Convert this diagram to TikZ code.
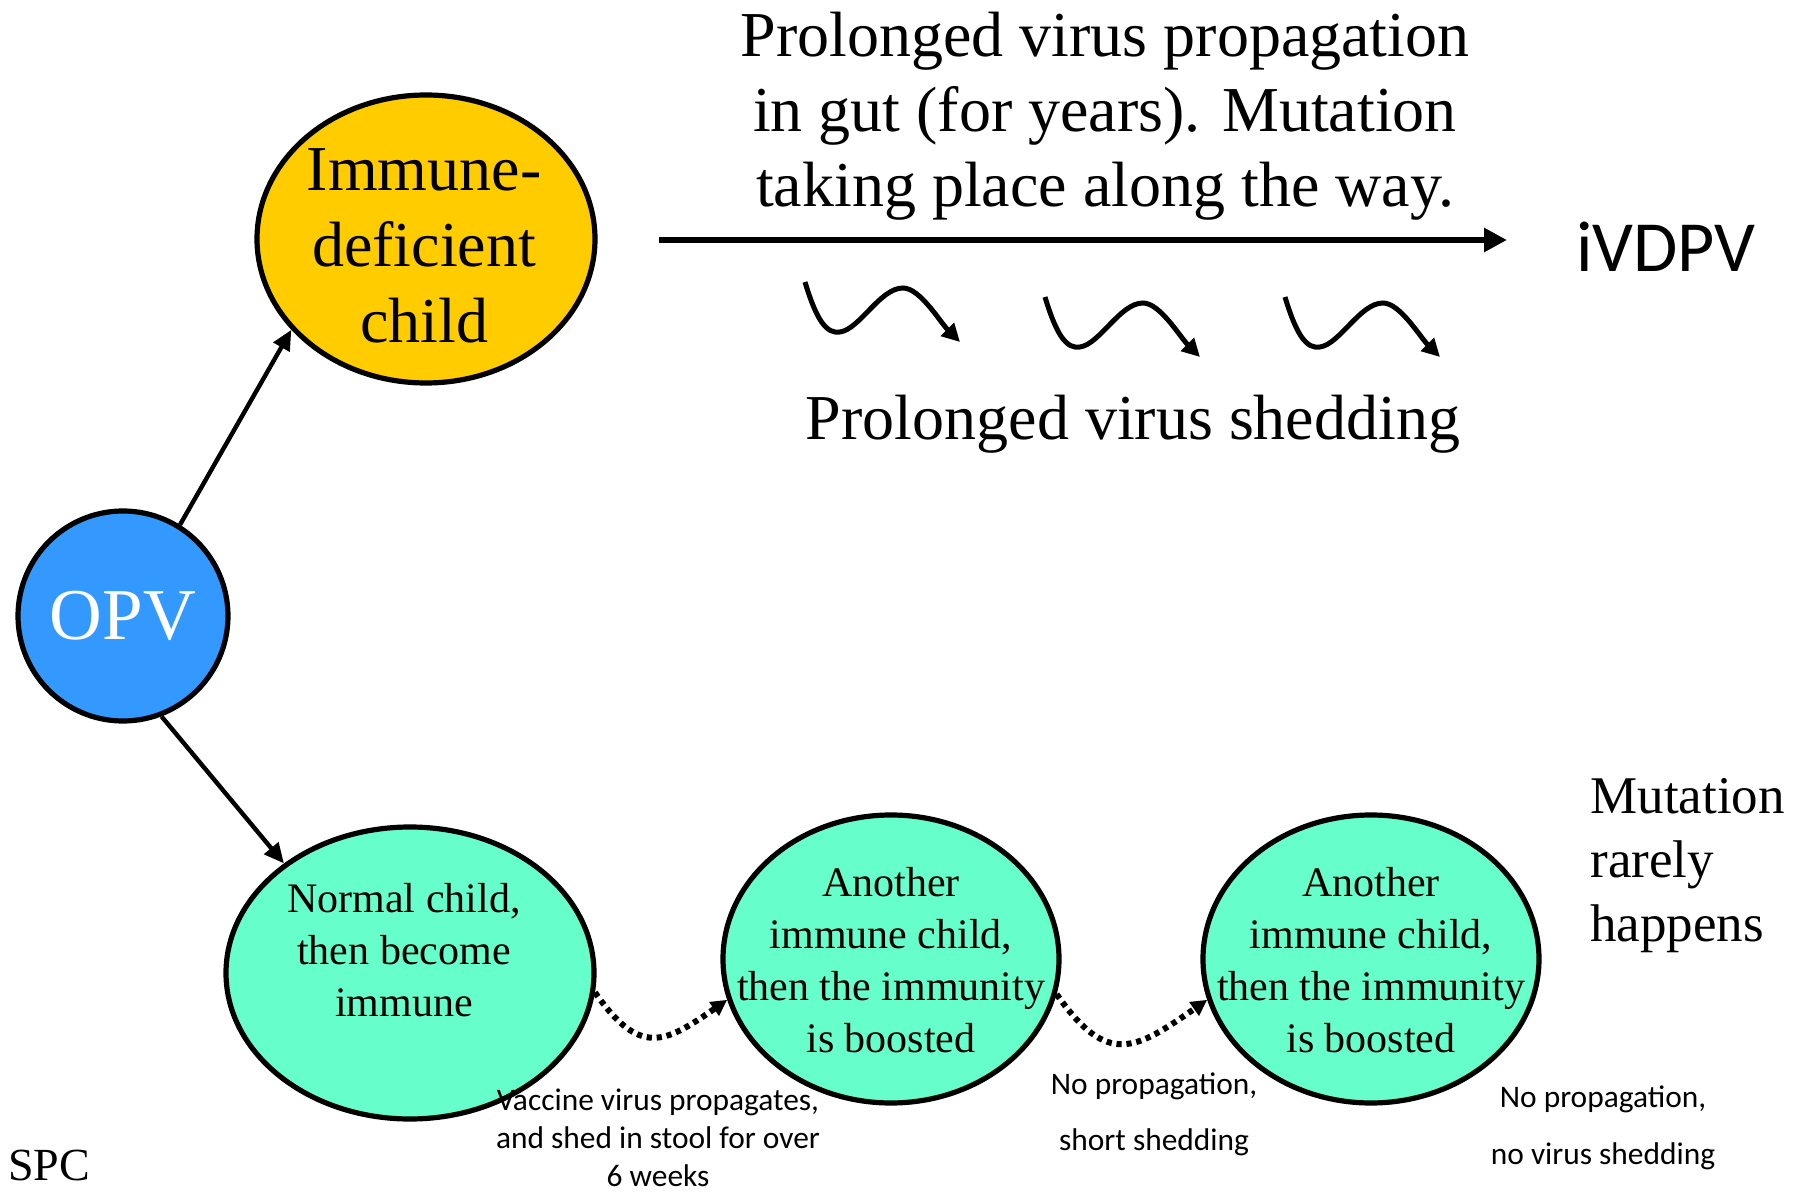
\documentclass[tikz,border=0pt]{standalone}
\usepackage{fontspec}
\setmainfont{Liberation Serif}
\newfontfamily\calibri{Carlito}
\usetikzlibrary{shapes.geometric,arrows.meta}
\definecolor{immyellow}{HTML}{FFCC00}
\definecolor{opvblue}{HTML}{3399FF}
\definecolor{mint}{HTML}{66FFCC}
\begin{document}
\begin{tikzpicture}[x=0.5pt,y=-0.5pt,
  bubble/.style={ellipse,draw=black,line width=2.6pt,inner sep=0pt},
  bigtext/.style={font=\fontsize{32}{38}\selectfont,align=center,inner sep=0pt},
  childtext/.style={font=\fontsize{21}{26}\selectfont,align=center,inner sep=0pt},
  smalltext/.style={font=\calibri\fontsize{15.7}{19}\selectfont,align=center,inner sep=0pt},
  opvarrow/.style={line width=2.2pt,-{Triangle[length=10pt,width=9pt]}},
  mainarrow/.style={line width=3pt,-{Triangle[length=11.5pt,width=11.5pt]}},
  squig/.style={line width=2.5pt,-{Triangle[length=9pt,width=9pt]}},
  dotarrow/.style={line width=3pt,dash pattern=on 2.6pt off 2.4pt,-{Triangle[length=8pt,width=8pt]}}]
\useasboundingbox (0,0) rectangle (1800,1192);

% nodes
\node[bubble,fill=opvblue,minimum width=105pt,minimum height=105pt,text=white,
      font=\fontsize{36.5}{40}\selectfont] (opv) at (123,616) {OPV};
\node[bubble,fill=immyellow,minimum width=169pt,minimum height=144pt] (imm) at (426,239) {};
\node[bigtext] (immtext) at (424,246) {Immune-\\deficient\\child};
\node[bubble,fill=mint,minimum width=184pt,minimum height=146pt] (normal) at (410,973) {};
\node[childtext] (normaltext) at (404,950) {Normal child,\\then become\\immune};
\node[bubble,fill=mint,minimum width=168pt,minimum height=144pt] (anot1) at (891,959) {};
\node[childtext] (anot1text) at (891,960) {Another\\immune child,\\then the immunity\\is boosted};
\node[bubble,fill=mint,minimum width=168pt,minimum height=144pt] (anot2) at (1371,959) {};
\node[childtext] (anot2text) at (1371,960) {Another\\immune child,\\then the immunity\\is boosted};

\node[bigtext,font=\fontsize{32}{37.6}\selectfont] (title) at (1105,116) {Prolonged virus propagation\\in gut (for years). Mutation\\taking place along the way.};
\node[inner sep=0pt,font=\calibri\fontsize{36}{40}\selectfont] (ivdpv) at (1666,247) {iVDPV};
\node[bigtext] (shed) at (1133,424) {Prolonged virus shedding};
\node[inner sep=0pt,anchor=west,align=left,font=\fontsize{26.5}{32}\selectfont] (mut) at (1590,866) {Mutation\\rarely\\happens};

\node[smalltext] (lab1) at (658,1138) {Vaccine virus propagates,\\and shed in stool for over\\6 weeks};
\node[smalltext,font=\calibri\fontsize{15.7}{28}\selectfont] (lab2) at (1154,1114) {No propagation,\\short shedding};
\node[smalltext,font=\calibri\fontsize{15.7}{28.5}\selectfont] (lab3) at (1603,1128) {No propagation,\\no virus shedding};
\node[inner sep=0pt,font=\fontsize{23}{26}\selectfont] (spc) at (49,1165) {SPC};

% connectors
\coordinate (arrstart) at (659,240);
\coordinate (arrend) at (1507,240);
\draw[mainarrow] (arrstart) -- (arrend);
\draw[opvarrow] (opv.58) -- (imm.214);
\draw[opvarrow] (opv.-69) -- (normal.139);
\draw[dotarrow] (normal.-6) to[out=-55,in=-145,looseness=1.5] (anot1.194);
\draw[dotarrow] (anot1.-12) to[out=-55,in=-145,looseness=1.5] (anot2.194);

% squiggles
\foreach \sx/\sy in {805/282, 1045/297, 1285/297}
  \draw[squig, shift={(\sx,\sy)}] (0,0) .. controls (12,40) and (22,52) .. (35,50)
     .. controls (55,47) and (75,6) .. (98,6) .. controls (115,6) and (135,40) .. (155,60);
\end{tikzpicture}
\end{document}
